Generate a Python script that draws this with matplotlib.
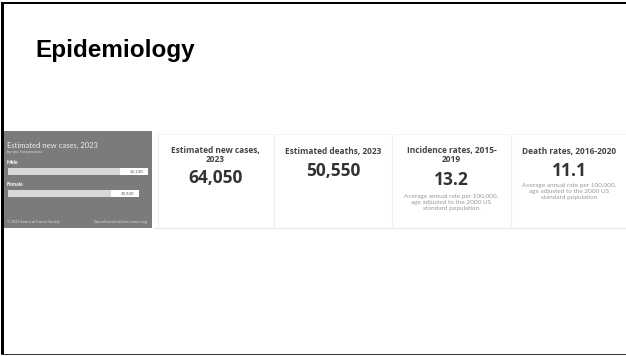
import matplotlib.pyplot as plt
from matplotlib.patches import Rectangle

# data
sexes = ["Male", "Female"]
new_cases_by_sex = [33130, 30920]

card_titles = ["Estimated new cases,\n2023", "Estimated deaths, 2023",
               "Incidence rates, 2015-\n2019", "Death rates, 2016-2020"]
card_values = ["64,050", "50,550", "13.2", "11.1"]
card_notes = ["", "",
              "Average annual rate per 100,000,\nage adjusted to the 2000 US\nstandard population.",
              "Average annual rate per 100,000,\nage adjusted to the 2000 US\nstandard population"]

W, H = 626, 356
fig = plt.figure(figsize=(W / 100, H / 100), dpi=100)

# page canvas in pixel coords
ax = fig.add_axes([0, 0, 1, 1])
ax.set_xlim(0, W)
ax.set_ylim(H, 0)
ax.axis("off")

# slide border (left, top, bottom)
ax.add_patch(Rectangle((0.5, 2), 3, H - 4, color="black", lw=0))
ax.add_patch(Rectangle((0.5, 2), W, 2.2, color="black", lw=0))
ax.add_patch(Rectangle((0.5, H - 2.5), W, 1.5, color="#333333", lw=0))

ax.text(35, 51, "Epidemiology", fontsize=17.5, fontweight="bold",
        family="Liberation Sans", va="center", ha="left", color="black")

# grey panel
ax.add_patch(Rectangle((3.5, 131), 148, 96.5, color="#7b7b7b", lw=0))
ax.text(7, 145, "Estimated new cases, 2023", color="#eeeeee", fontsize=5.5,
        family="Lato", va="center")
ax.text(7, 152, "by sex, for pancreas", color="#e0e0e0", fontsize=3.0,
        family="Lato", va="center")
ax.text(7, 162, "Male", color="white", fontsize=3.8, fontweight="bold",
        family="Lato", va="center")
ax.text(7, 184.5, "Female", color="white", fontsize=3.8, fontweight="bold",
        family="Lato", va="center")
ax.text(7, 222, "\u00a9 2023 American Cancer Society", color="#dddddd",
        fontsize=2.6, family="Lato", va="center")
ax.text(148, 222, "CancerStatisticsCenter.cancer.org", color="#dddddd",
        fontsize=2.6, family="Lato", va="center", ha="right")

# bar chart inside grey panel
bx = fig.add_axes([8 / W, 1 - 200 / H, 140 / W, 35 / H])
vmax = max(new_cases_by_sex)
ypos = list(range(len(sexes)))
bx.barh(ypos, new_cases_by_sex, height=0.32, color="#d8d8d8")
lab_w = 0.2 * vmax
bx.barh(ypos, [lab_w] * len(sexes), left=[v - lab_w for v in new_cases_by_sex],
        height=0.32, color="white")
for y, v in zip(ypos, new_cases_by_sex):
    bx.text(v - 0.03 * vmax, y, f"{v:,}", ha="right", va="center",
            fontsize=3.2, color="#555555", family="Lato")
bx.set_xlim(0, vmax)
bx.set_ylim(1.295, -0.295)
bx.axis("off")

# cards
card_x = [158, 275, 393, 512]
card_w = [115, 116, 117, 114]
ax.plot([154, W], [227.5, 227.5], color="#e6e6e6", lw=0.8)
for x in [274, 392, 511]:
    ax.plot([x, x], [134, 226], color="#eeeeee", lw=0.8)
ax.plot([158, 158], [134, 226], color="#eeeeee", lw=0.8)
ax.plot([158, W], [133.5, 133.5], color="#f4f4f4", lw=0.6)

title_y = [155.5, 151.5, 155.5, 151.5]
value_y = [178, 170.5, 180, 171.5]
note_y = [0, 0, 202.5, 192]
for i in range(4):
    cx = card_x[i] + card_w[i] / 2
    ax.text(cx, title_y[i], card_titles[i], ha="center", va="center", fontsize=6.0,
            fontweight="bold", family="Open Sans", color="#444444", linespacing=1.0)
    ax.text(cx, value_y[i], card_values[i], ha="center", va="center",
            fontsize=12.5, fontweight="bold", family="Open Sans", color="#333333")
    if card_notes[i]:
        ax.text(cx, note_y[i], card_notes[i], ha="center", va="center",
                fontsize=4.6, family="Lato", color="#999999", linespacing=1.25)

fig.savefig("out.png", dpi=100)
